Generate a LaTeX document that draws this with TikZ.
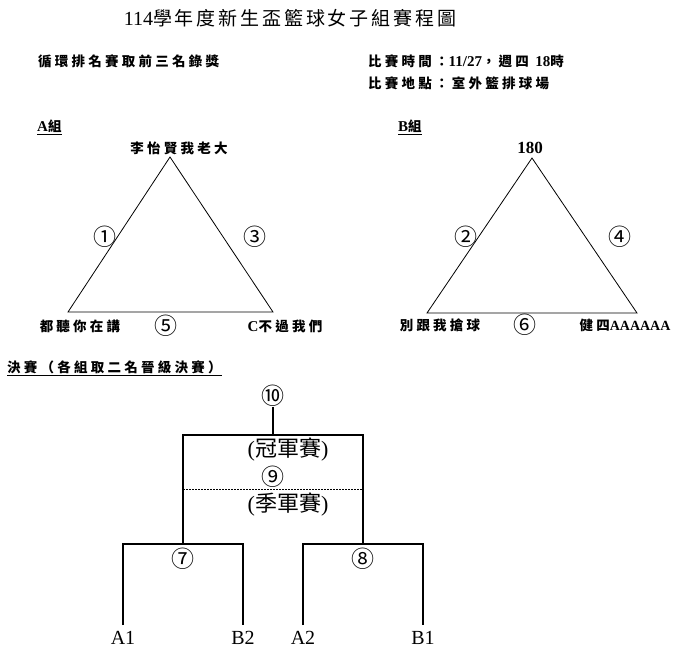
\documentclass[tikz,border=0pt]{standalone}
\usepackage{fontspec}
\setmainfont{Liberation Serif}
\newfontfamily\cjk{Noto Sans CJK TC}
\usetikzlibrary{positioning}
\newcommand\ltn[1]{{\rmfamily\bfseries\fontsize{15}{15}\selectfont #1}}
\tikzset{
	bigtitle/.style={inner sep=0, font=\cjk\fontsize{19}{21}\selectfont\addfontfeatures{LetterSpace=15}},
	info/.style={anchor=west, inner sep=0, font=\cjk\bfseries\fontsize{13.5}{15}\selectfont\addfontfeatures{LetterSpace=24}},
	team/.style={inner sep=0, font=\cjk\bfseries\fontsize{13.5}{15}\selectfont\addfontfeatures{LetterSpace=24}},
	circnum/.style={inner sep=0, font=\cjk\fontsize{23}{25}\selectfont},
	finallbl/.style={inner sep=0, font=\cjk\fontsize{22}{24}\selectfont},
	slot/.style={anchor=north, inner xsep=0, inner ysep=6pt, font=\fontsize{20}{22}\selectfont},
	edge/.style={line width=0.8pt},
	wire/.style={line width=1.1pt},
}

\begin{document}
\begin{tikzpicture}[x=1pt, y=-1pt]
		%%%%% START %%%%%
		\useasboundingbox[fill=white] (0, 0) rectangle (680, 667);
		
		\node[bigtitle] (title) at (290, 18) {{\rmfamily\fontsize{20}{22}\selectfont 114}學年度新生盃籃球女子組賽程圖};
		
		\node[info] (rule) at (38, 61) {循環排名賽取前三名錄獎};
		\node[info] (time) at (368, 61) {比賽時間：\ltn{11/27}，週四 \ltn{18}時};
		\node[info] (place) at (368, 83) {比賽地點：室外籃排球場};
		
		%%%%% A %%%%%
		\node[info] (grpA) at (37, 127) {\underline{\ltn{A}組}};
		\coordinate (aT) at (170, 157);
		\coordinate (aL) at (68, 312);
		\coordinate (aR) at (273, 312);
		\draw[edge] (aT) -- (aL) -- (aR) -- cycle;
		\node[team] (a1) at (179, 148) {李怡賢我老大};
		\node[team] (a2) at (80, 326) {都聽你在講};
		\node[team] (a3) at (285, 326) {\ltn{C}不過我們};
		\node[circnum] (g1) at (105, 237) {①};
		\node[circnum] (g3) at (255, 237) {③};
		\node[circnum] (g5) at (166, 326) {⑤};
		
		%%%%% B %%%%%
		\node[info] (grpB) at (398, 127) {\underline{\ltn{B}組}};
		\coordinate (bT) at (532, 158);
		\coordinate (bL) at (427, 313);
		\coordinate (bR) at (637, 313);
		\draw[edge] (bT) -- (bL) -- (bR) -- cycle;
		\node[team] (b1) at (530, 148) {\ltn{\fontsize{17}{17}\selectfont 180}};
		\node[team] (b2) at (440, 325) {別跟我搶球};
		\node[team] (b3) at (625, 325) {健四{\rmfamily\bfseries\fontsize{14}{14}\selectfont AAAAAA}};
		\node[circnum] (g2) at (466, 237) {②};
		\node[circnum] (g4) at (620, 237) {④};
		\node[circnum] (g6) at (525, 325) {⑥};
		
		%%%%% FINALS %%%%%
		\node[info] (fin) at (7, 368) {\underline{決賽（各組取二名晉級決賽）}};
		
		\node[circnum] (g10) at (273, 396) {⑩};
		\coordinate (top) at (273, 435);
		\coordinate (m7) at (183, 544);
		\coordinate (m8) at (363, 544);
		\draw[wire] (g10.south) -- (top);
		\draw[wire] (m7) |- (top) -| (m8);
		\draw[line width=0.6pt, dash pattern=on 1.5pt off 1.5pt] (183, 489) -- (363, 489);
		\node[finallbl] (champ) at (288, 450) {{\rmfamily(}冠軍賽{\rmfamily)}};
		\node[circnum] (g9) at (273, 477) {⑨};
		\node[finallbl] (third) at (288, 505) {{\rmfamily(}季軍賽{\rmfamily)}};
		
		\node[slot] (A1) at (123, 625) {A1};
		\node[slot] (B2) at (243, 625) {B2};
		\node[slot] (A2) at (303, 625) {A2};
		\node[slot] (B1) at (423, 625) {B1};
		\draw[wire] (A1.north) |- (m7) -| (B2.north);
		\draw[wire] (A2.north) |- (m8) -| (B1.north);
		\node[circnum] (g7) at (183, 559) {⑦};
		\node[circnum] (g8) at (363, 559) {⑧};
		
		%%%%% END %%%%%
	\end{tikzpicture}
\end{document}
